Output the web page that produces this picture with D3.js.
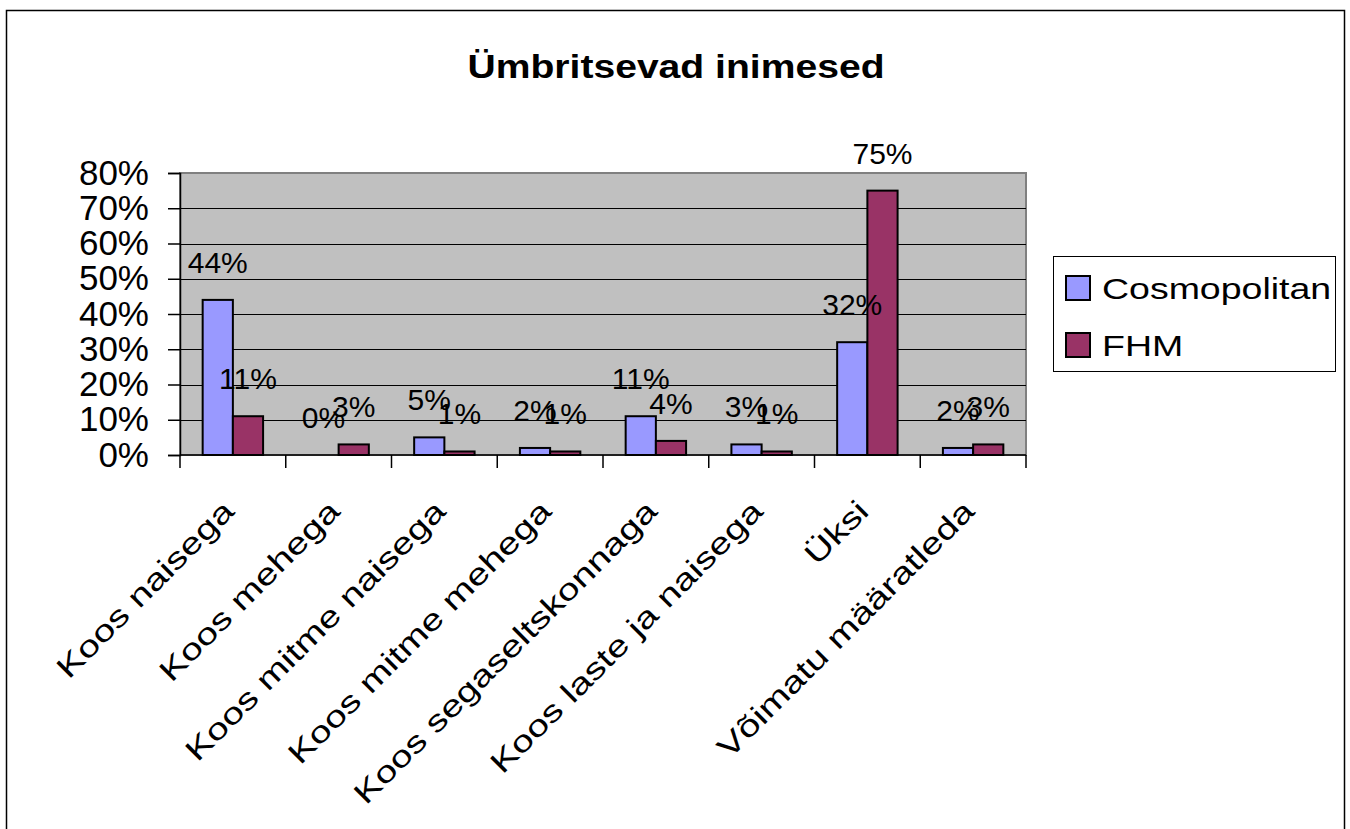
<!DOCTYPE html>
<html>
<head>
<meta charset="utf-8">
<script src="https://cdn.jsdelivr.net/npm/d3@7"></script>
<style>
  html, body { margin: 0; padding: 0; background: #fff; }
  svg { display: block; font-family: "Liberation Sans", Arial, sans-serif; }
</style>
</head>
<body>
<svg id="chart" width="1350" height="829"></svg>
<script>
const categories = ["Koos naisega", "Koos mehega", "Koos mitme naisega", "Koos mitme mehega",
  "Koos segaseltskonnaga", "Koos laste ja naisega", "Üksi", "Võimatu määratleda"];
const seriesNames = ["Cosmopolitan", "FHM"];
const cosmopolitan = [0.44, 0.00, 0.05, 0.02, 0.11, 0.03, 0.32, 0.02];
const fhm = [0.11, 0.03, 0.01, 0.01, 0.04, 0.01, 0.75, 0.03];
const yTicks = [0, 0.1, 0.2, 0.3, 0.4, 0.5, 0.6, 0.7, 0.8];
const title = "Ümbritsevad inimesed";
const colors = ["#9999FF", "#993366"];

const svg = d3.select("#chart");

// outer chart border
svg.append("rect").attr("x", 6.5).attr("y", 10.5).attr("width", 1338).attr("height", 840)
  .attr("fill", "#fff").attr("stroke", "#000").attr("stroke-width", 1.5);

const plot = { left: 180, top: 173, right: 1026, bottom: 455 };

const x = d3.scaleBand().domain(categories).range([plot.left, plot.right]).paddingInner(0).paddingOuter(0);
const x1 = d3.scaleBand().domain(seriesNames).range([0, x.bandwidth()]).paddingInner(0).paddingOuter(0.75);
const y = d3.scaleLinear().domain([0, 0.8]).range([plot.bottom, plot.top]);

// plot area background
svg.append("rect").attr("x", plot.left).attr("y", plot.top)
  .attr("width", plot.right - plot.left).attr("height", plot.bottom - plot.top)
  .attr("fill", "#C0C0C0").attr("stroke", "#808080").attr("stroke-width", 2);

// gridlines
svg.append("g").selectAll("line").data(yTicks.filter(d => d > 0 && d < 0.8)).join("line")
  .attr("x1", plot.left).attr("x2", plot.right)
  .attr("y1", d => Math.round(y(d)) + 0.5).attr("y2", d => Math.round(y(d)) + 0.5)
  .attr("stroke", "#000").attr("stroke-width", 1);

// y axis
const yAxis = d3.axisLeft(y).tickValues(yTicks).tickFormat(d3.format(".0%")).tickSize(12).tickPadding(19);
const gy = svg.append("g").attr("transform", `translate(${plot.left},0)`).call(yAxis);
gy.select(".domain").attr("stroke", "#000").attr("stroke-width", 1.5);
gy.selectAll(".tick line").attr("stroke", "#000").attr("stroke-width", 1.5);
gy.selectAll(".tick text").attr("font-size", 35).attr("fill", "#000")
  .attr("font-family", "Liberation Sans, Arial, sans-serif");

// x axis
const boundaries = d3.range(categories.length + 1);
const gx = svg.append("g");
gx.append("line").attr("x1", plot.left).attr("x2", plot.right)
  .attr("y1", plot.bottom).attr("y2", plot.bottom).attr("stroke", "#000").attr("stroke-width", 1.5);
gx.selectAll("line.tk").data(boundaries).join("line").attr("class", "tk")
  .attr("x1", i => plot.left + i * x.bandwidth()).attr("x2", i => plot.left + i * x.bandwidth())
  .attr("y1", plot.bottom).attr("y2", plot.bottom + 13)
  .attr("stroke", "#000").attr("stroke-width", 1.5);

// category labels
gx.selectAll("text.cat").data(categories).join("text").attr("class", "cat")
  .attr("transform", d => `translate(${x(d) + x.bandwidth() / 2 + 3},${513}) rotate(-45) scale(1.3,1)`)
  .attr("text-anchor", "end").attr("font-size", 30).attr("fill", "#000")
  .text(d => d);

// bars
const data = categories.map((c, i) => ({ cat: c, vals: [cosmopolitan[i], fhm[i]] }));
const groups = svg.append("g").selectAll("g").data(data).join("g")
  .attr("transform", d => `translate(${x(d.cat)},0)`);
groups.selectAll("rect").data(d => d.vals.map((v, j) => ({ v, s: seriesNames[j], j }))).join("rect")
  .attr("x", d => x1(d.s)).attr("width", x1.bandwidth())
  .attr("y", d => y(d.v)).attr("height", d => y(0) - y(d.v))
  .attr("fill", d => colors[d.j]).attr("stroke", "#000").attr("stroke-width", 2);

// data labels
groups.selectAll("text").data(d => d.vals.map((v, j) => ({ v, s: seriesNames[j], j }))).join("text")
  .attr("x", d => x1(d.s) + x1.bandwidth() / 2).attr("y", d => y(d.v) - 27)
  .attr("text-anchor", "middle").attr("font-size", 30).attr("fill", "#000")
  .text(d => d3.format(".0%")(d.v));

// title
svg.append("text").attr("transform", `translate(676,78) scale(1.15,1)`)
  .attr("text-anchor", "middle").attr("font-size", 34).attr("font-weight", "bold").attr("fill", "#000")
  .text(title);

// legend
const lg = svg.append("g");
lg.append("rect").attr("x", 1053.5).attr("y", 256.5).attr("width", 282).attr("height", 115)
  .attr("fill", "#fff").attr("stroke", "#000").attr("stroke-width", 1);
const items = lg.selectAll("g").data(seriesNames).join("g")
  .attr("transform", (d, i) => `translate(0,${i * 57})`);
items.append("rect").attr("x", 1066).attr("y", 276).attr("width", 24).attr("height", 24)
  .attr("fill", (d, i) => colors[i]).attr("stroke", "#000").attr("stroke-width", 2);
items.append("text").attr("transform", `translate(1102,299) scale(1.25,1)`)
  .attr("font-size", 30).attr("fill", "#000").text(d => d);
</script>
</body>
</html>
